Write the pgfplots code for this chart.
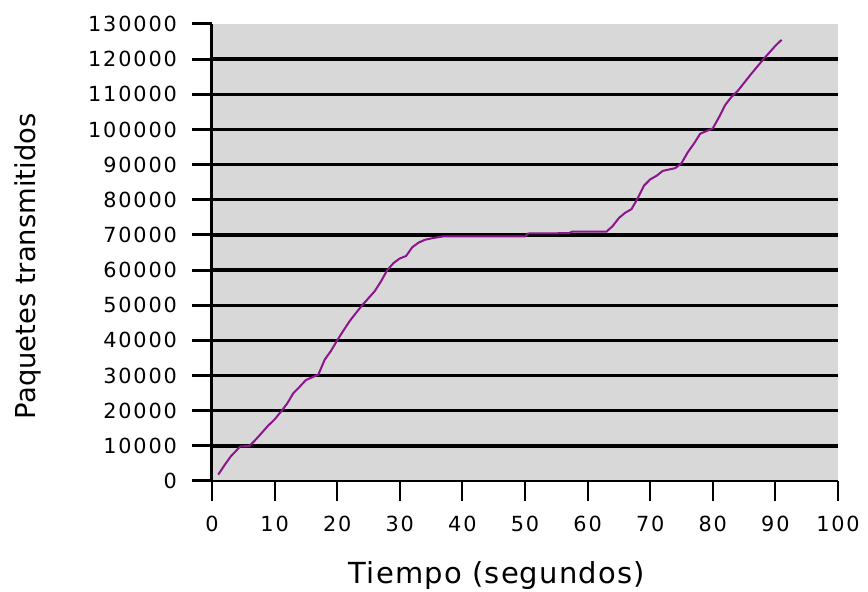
\documentclass[border=0pt]{standalone}
\usepackage{pgfplots}
\pgfplotsset{compat=1.18}
\usepackage{fontspec}
\setmainfont{DejaVu Sans}
\newfontfamily\tickfont[LetterSpace=9]{DejaVu Sans}
\newfontfamily\labelfont[LetterSpace=4]{DejaVu Sans}
\definecolor{plotbg}{RGB}{216,216,216}
\definecolor{linepurple}{RGB}{140,20,140}
\begin{document}
\begin{tikzpicture}
\path[use as bounding box] (-106pt,-55.5pt) rectangle (328pt,240.5pt);
\begin{axis}[
  at={(0,0)}, anchor=south west,
  scale only axis, width=313pt, height=228.5pt,
  xmin=0, xmax=100, ymin=0, ymax=130000,
  xtick={0,10,...,100}, ytick={0,10000,...,130000},
  scaled y ticks=false,
  /pgf/number format/assume math mode=true,
  yticklabel={\tickfont\pgfmathprintnumber[fixed,1000 sep={}]{\tick}},
  xticklabel={\tickfont\pgfmathprintnumber{\tick}},
  ticklabel style={font=\fontsize{10.4}{12}\tickfont},
  axis background/.style={fill=plotbg},
  axis x line*=bottom, axis y line*=left,
  x axis line style={line width=1pt, shorten <=-10pt},
  y axis line style={line width=1.5pt},
  tick align=outside, major tick length=10pt,
  xtick style={line width=1pt, black},
  ytick style={line width=1.5pt, black},
  yticklabel style={anchor=east, xshift=-4pt},
  xticklabel style={anchor=north, yshift=-4pt},
  extra y ticks={10000,20000,...,120000},
  extra y tick labels={},
  extra y tick style={ymajorgrids=true, major tick length=0pt, grid style={black, line width=1.7pt}},
  xlabel={\labelfont Tiempo (segundos)},
  ylabel={Paquetes transmitidos},
  xlabel style={at={(axis description cs:0.455,-0.206)}, anchor=center, font=\fontsize{14.5}{17}\selectfont},
  ylabel style={at={(axis description cs:-0.294,0.47)}, anchor=center, font=\fontsize{13.7}{16}\selectfont},
  clip=false,
]
\addplot[linepurple, line width=1pt] table {
t v
1 1800
2 4500
3 7000
4.5 9800
6 10000
7 11800
8 13800
9 15800
10 17500
11 19700
12 22000
13 25000
14 26800
15 28700
16 29500
17 30300
18 34500
19 37000
20 40000
21 42800
22 45500
23 47800
24 50000
25 52000
26 54000
27 56800
28 60000
29 62000
30 63300
31 64000
32 66500
33 67800
34 68600
35 69000
37 69600
50 69600
50.5 70400
57 70500
57.5 70900
63 70900
64 72500
65 74800
66 76300
67 77300
68 80400
69 84000
70 85800
71 86800
72 88200
74 89000
75 90400
76 93500
77 96000
78 98800
80 100300
81 103500
82 107000
83 109300
84 111000
86 115500
88 119800
90 123800
91 125500
};
\end{axis}
\end{tikzpicture}
\end{document}
